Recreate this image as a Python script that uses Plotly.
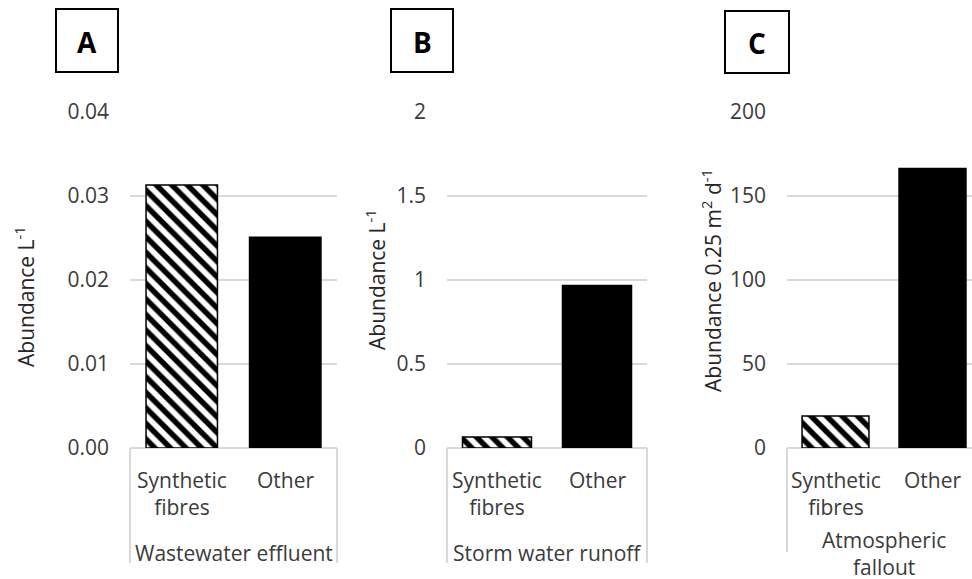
import plotly.graph_objects as go

# Figure size in pixels
W, H = 972, 579

# ---- data ----
categories = ["Synthetic fibres", "Other"]
tick_labels = ["Synthetic<br>fibres", "Other"]
panel_letters = ["A", "B", "C"]
group_labels = ["Wastewater effluent", "Storm water runoff", "Atmospheric<br>fallout"]
axis_titles = [
    "Abundance L<sup>-1</sup>",
    "Abundance L<sup>-1</sup>",
    "Abundance 0.25 m<sup>2</sup> d<sup>-1</sup>",
]
wastewater_effluent = [0.0313, 0.0251]
storm_water_runoff = [0.065, 0.967]
atmospheric_fallout = [19.0, 166.4]

y_ranges = [[0, 0.04], [0, 2], [0, 200]]
y_dticks = [0.01, 0.5, 50]
y_formats = [".2f", "", ""]

# ---- layout geometry (pixels) ----
plot_left = [130, 447, 787]
plot_right = [337, 647, 972]
band_px = [103.5, 100, 97]
plot_top, plot_bottom = 112, 448
box_bottom = [563, 563, 552]
group_label_x = [233.5, 547, 884]
letter_boxes = [(56, 118, 9, 72), (391, 453, 9, 72), (725, 789, 11, 73)]
title_pos = [(24, 297), (375, 280), (711, 281)]

FONT = "Open Sans"
TEXT = "#3b3b3b"
GRID = "#d9d9d9"


def px(x):
    return x / W


def py(y):
    return 1 - y / H


series = [wastewater_effluent, storm_water_runoff, atmospheric_fallout]

fig = go.Figure()
shapes, annotations = [], []

for i, values in enumerate(series):
    n = i + 1
    xa = "x" if n == 1 else f"x{n}"
    ya = "y" if n == 1 else f"y{n}"

    # hatched bar for synthetic fibres
    fig.add_trace(go.Bar(
        x=categories[:1], y=values[:1], xaxis=xa, yaxis=ya,
        marker=dict(
            color="white",
            line=dict(color="black", width=1.5),
            pattern=dict(shape="\\", fgcolor="black", size=11, solidity=0.5,
                         fillmode="overlay", fgopacity=1),
        ),
        showlegend=False,
    ))
    # solid bar for other particles
    fig.add_trace(go.Bar(
        x=categories[1:], y=values[1:], xaxis=xa, yaxis=ya,
        marker=dict(color="black", line=dict(color="black", width=1.5)),
        showlegend=False,
    ))

    x_end = -0.5 + (plot_right[i] - plot_left[i]) / band_px[i]
    fig.layout[f"xaxis{'' if n == 1 else n}"] = dict(
        domain=[px(plot_left[i]), px(plot_right[i])],
        anchor=ya, range=[-0.5, x_end], type="category",
        categoryorder="array", categoryarray=categories,
        showticklabels=False, showgrid=False, zeroline=False, showline=False,
        fixedrange=True,
    )
    fig.layout[f"yaxis{'' if n == 1 else n}"] = dict(
        domain=[py(plot_bottom), py(plot_top)],
        anchor=xa, range=y_ranges[i], dtick=y_dticks[i], tickformat=y_formats[i],
        showgrid=True, gridcolor=GRID, gridwidth=2, zeroline=False, showline=False,
        ticks="", ticklabelstandoff=20, automargin=False,
        tickfont=dict(family=FONT, size=21, color=TEXT),
    )

    # category axis frame
    line = dict(color=GRID, width=2)
    shapes.append(dict(type="line", xref="paper", yref="paper", line=line,
                       x0=px(plot_left[i]), x1=px(plot_right[i]),
                       y0=py(plot_bottom), y1=py(plot_bottom), layer="below"))
    for xe in (plot_left[i], plot_right[i]):
        if i == 2 and xe == plot_right[i]:
            continue
        shapes.append(dict(type="line", xref="paper", yref="paper", line=line,
                           x0=px(xe), x1=px(xe),
                           y0=py(plot_bottom), y1=py(box_bottom[i]), layer="below"))

    # category labels
    for cat, lab in zip(categories, tick_labels):
        annotations.append(dict(
            x=cat, y=py(464), xref=xa, yref="paper", text=lab, showarrow=False,
            xanchor="center", yanchor="top", align="center",
            font=dict(family=FONT, size=21, color=TEXT),
        ))
    # group label
    annotations.append(dict(
        x=px(group_label_x[i]), y=py(553), xref="paper", yref="paper",
        text=group_labels[i], showarrow=False,
        xanchor="center", yanchor="middle", align="center",
        font=dict(family=FONT, size=21, color=TEXT),
    ))
    # y axis title
    tx, ty = title_pos[i]
    annotations.append(dict(
        x=px(tx), y=py(ty), xref="paper", yref="paper", text=axis_titles[i],
        showarrow=False, textangle=-90, xanchor="center", yanchor="middle",
        font=dict(family=FONT, size=21, color="#262626"),
    ))
    # panel letter box
    x0, x1, y0, y1 = letter_boxes[i]
    shapes.append(dict(type="rect", xref="paper", yref="paper",
                       x0=px(x0), x1=px(x1), y0=py(y1), y1=py(y0),
                       line=dict(color="black", width=2), fillcolor="white"))
    annotations.append(dict(
        x=px((x0 + x1) / 2), y=py((y0 + y1) / 2 + 1), xref="paper", yref="paper",
        text=f"<b>{panel_letters[i]}</b>", showarrow=False,
        xanchor="center", yanchor="middle",
        font=dict(family=FONT, size=28, color="black"),
    ))

fig.update_layout(
    width=W, height=H,
    margin=dict(l=0, r=0, t=0, b=0, pad=0, autoexpand=False),
    paper_bgcolor="white", plot_bgcolor="white",
    barmode="overlay", bargap=0.31, shapes=shapes, annotations=annotations,
    font=dict(family=FONT, color=TEXT),
)

fig.write_html("out.html", config={"displayModeBar": False})
